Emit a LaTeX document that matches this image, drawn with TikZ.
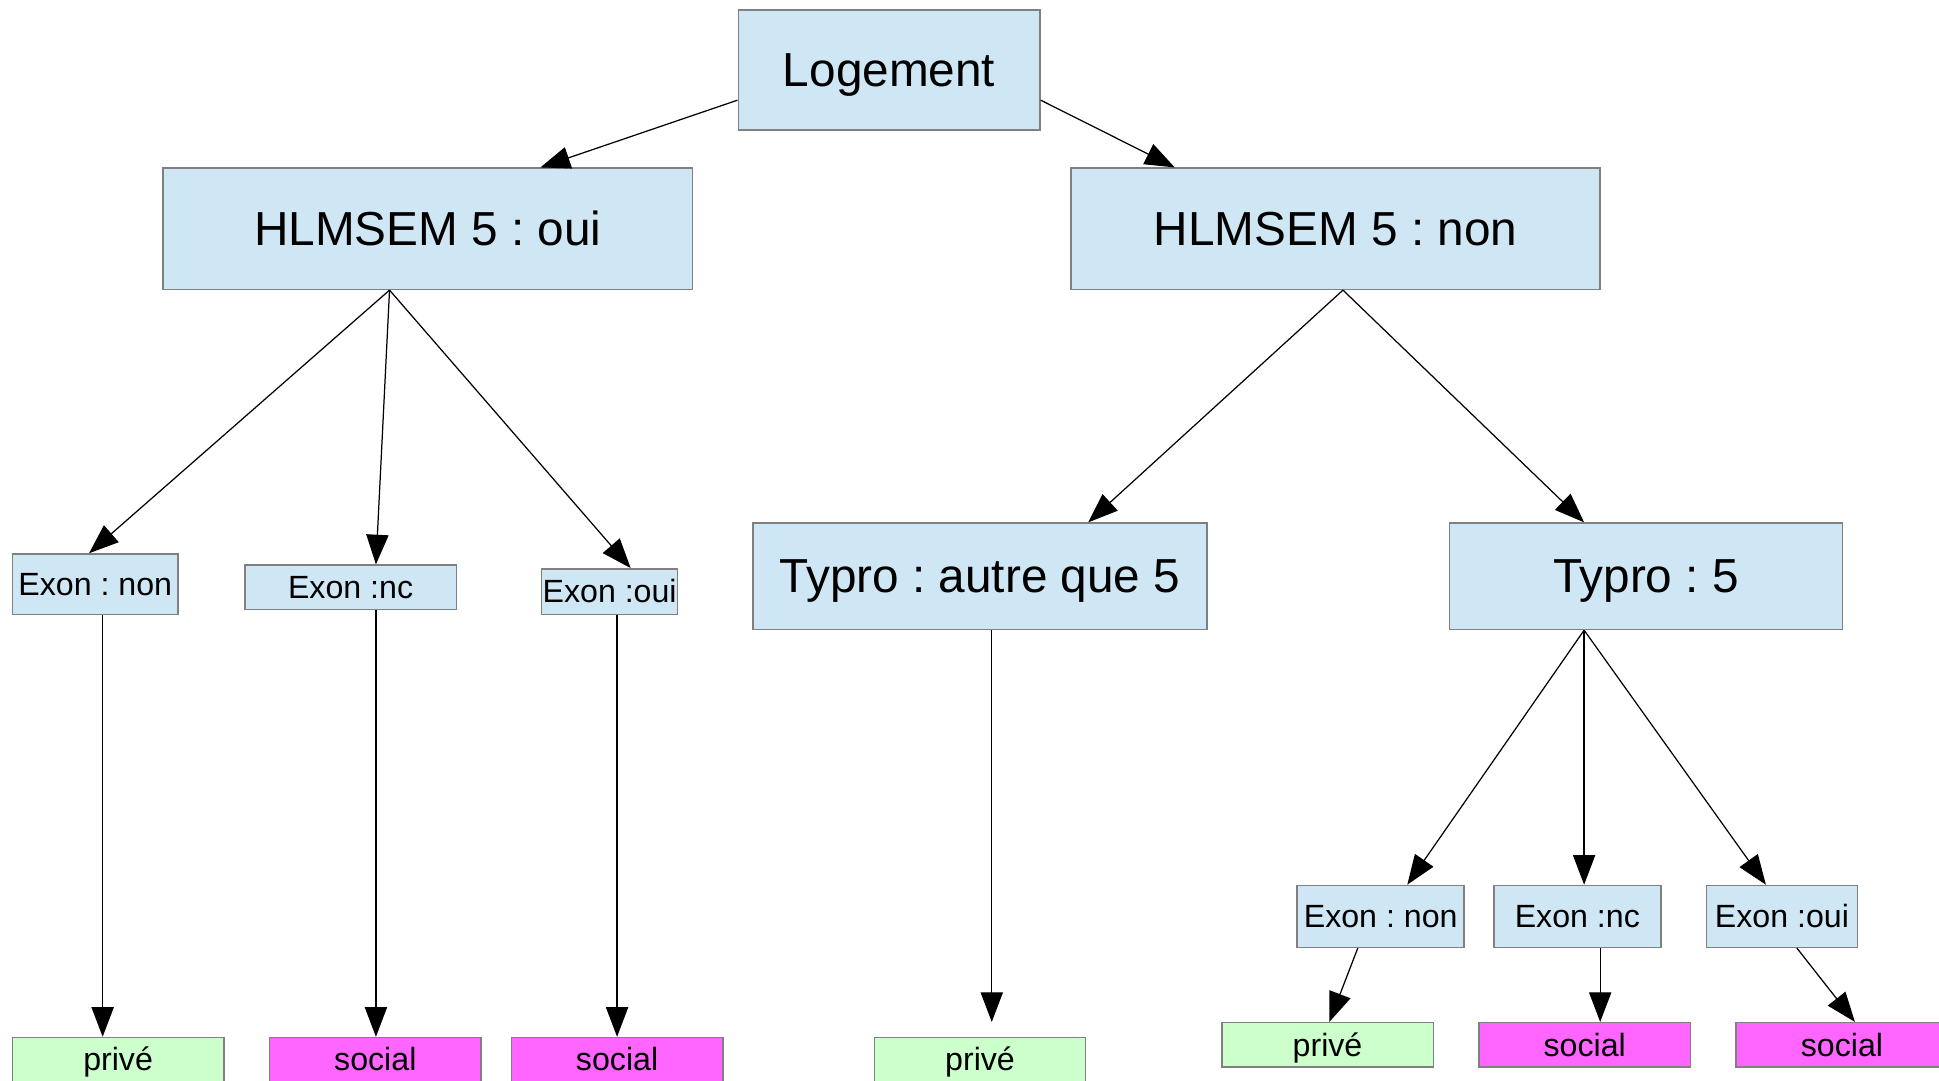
\documentclass[tikz,border=0pt]{standalone}
\usepackage{fontspec}
\setmainfont{Liberation Sans}
\usetikzlibrary{arrows.meta}
\definecolor{boxblue}{RGB}{207,231,245}
\definecolor{boxgreen}{RGB}{204,255,204}
\definecolor{boxmag}{RGB}{255,102,255}
\definecolor{boxline}{RGB}{128,128,128}
\frenchspacing
\tikzset{
  nbox/.style={draw=boxline, line width=0.6pt, inner sep=0pt, text=black},
  bigtxt/.style={font=\fontsize{19.3}{22}\selectfont\frenchspacing, text height=17.47pt, text depth=4.09pt},
  smalltxt/.style={font=\fontsize{13}{15}\selectfont\frenchspacing, text height=11.77pt, text depth=2.76pt},
  big/.style={nbox, fill=boxblue, bigtxt},
  small/.style={nbox, fill=boxblue, smalltxt},
  prive/.style={nbox, fill=boxgreen, smalltxt, minimum width=85.5pt, minimum height=18pt},
  soc/.style={nbox, fill=boxmag, smalltxt, minimum width=85.5pt, minimum height=18pt},
  conn/.style={line width=0.5pt, -{Triangle[length=12pt,width=9pt]}},
}
\begin{document}
\begin{tikzpicture}[x=0.5pt,y=-0.5pt]
\clip (0,0) rectangle (1568,874);
\fill[white] (0,0) rectangle (1568,874);
% level 0
\node[big, minimum width=122pt, minimum height=48.5pt] (Log) at (719,56.5) {Logement};
% level 1
\node[big, minimum width=214pt, minimum height=49pt] (HO) at (346,185) {HLMSEM 5 : oui};
\node[big, minimum width=214pt, minimum height=49pt] (HN) at (1080,185) {HLMSEM 5 : non};
% left exon
\node[small, minimum width=67pt, minimum height=24.5pt] (ExnL) at (77,472.5) {Exon : non};
\node[small, minimum width=85.5pt, minimum height=18pt] (ExcL) at (283.5,475) {Exon :nc};
\node[small, minimum width=55pt, minimum height=18.5pt] (ExoL) at (493,478.5) {Exon :oui};
% typro
\node[big, minimum width=183.5pt, minimum height=43pt] (TypA) at (792.5,466) {Typro : autre que 5};
\node[big, minimum width=159pt, minimum height=43pt] (Typ5) at (1331,466) {Typro : 5};
% right exon
\node[small, minimum width=67.5pt, minimum height=25pt] (ExnR) at (1116.5,741) {Exon : non};
\node[small, minimum width=67.5pt, minimum height=25pt] (ExcR) at (1275.5,741) {Exon :nc};
\node[small, minimum width=61pt, minimum height=25pt] (ExoR) at (1441,741) {Exon :oui};
% leaves
\node[prive] (prL) at (95.5,857) {privé};
\node[soc] (soL1) at (303.5,857) {social};
\node[soc] (soL2) at (499,857) {social};
\node[prive] (prM) at (792.5,857) {privé};
\node[prive] (prR) at (1073.5,845) {privé};
\node[soc] (soR1) at (1281.5,845) {social};
\node[soc] (soR2) at (1489.5,845) {social};
% connectors
\draw[conn] ([yshift=-12.25pt]Log.west) -- ([xshift=45.5pt]HO.north);
\draw[conn] ([yshift=-12.25pt]Log.east) -- ([xshift=-65pt]HN.north);
\draw[conn] ([xshift=-15.5pt]HO.south) -- ([xshift=-2.5pt]ExnL.north);
\draw[conn] ([xshift=-15.5pt]HO.south) -- ([xshift=10.25pt]ExcL.north);
\draw[conn] ([xshift=-15.5pt]HO.south) -- ([xshift=8.5pt]ExoL.north);
\draw[conn] ([xshift=3pt]HN.south) -- ([xshift=43.75pt]TypA.north);
\draw[conn] ([xshift=3pt]HN.south) -- ([xshift=-25pt]Typ5.north);
\draw[conn] ([xshift=3pt]ExnL.south) -- ([xshift=-6.25pt]prL.north);
\draw[conn] ([xshift=10.25pt]ExcL.south) -- ([xshift=0.25pt]soL1.north);
\draw[conn] ([xshift=3pt]ExoL.south) -- (soL2.north);
\draw[conn] ([xshift=4.75pt]TypA.south) -- ([xshift=4.75pt,yshift=6pt]prM.north);
\draw[conn] ([xshift=-25pt]Typ5.south) -- ([xshift=10.75pt]ExnR.north);
\draw[conn] ([xshift=-25pt]Typ5.south) -- ([xshift=2.75pt]ExcR.north);
\draw[conn] ([xshift=-25pt]Typ5.south) -- ([xshift=-6.5pt]ExoR.north);
\draw[conn] ([xshift=-9.25pt]ExnR.south) -- ([xshift=0.75pt]prR.north);
\draw[conn] ([xshift=9.25pt]ExcR.south) -- ([xshift=6.25pt]soR1.north);
\draw[conn] ([xshift=6pt]ExoR.south) -- ([xshift=5.25pt]soR2.north);
\end{tikzpicture}
\end{document}
